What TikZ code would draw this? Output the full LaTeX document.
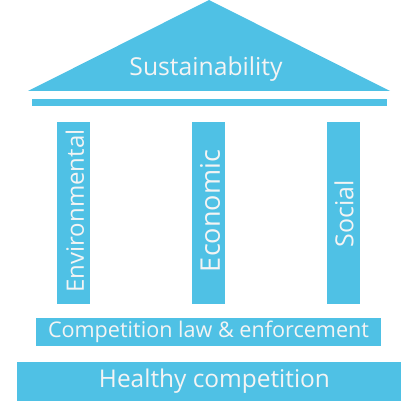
\documentclass[tikz,border=0pt]{standalone}
\usepackage{fontspec}
\setmainfont{Open Sans}
\definecolor{pblue}{HTML}{4FC1E5}
\definecolor{ptext}{HTML}{F4F4F4}
\begin{document}
\begin{tikzpicture}[x=1pt,y=-1pt,
  part/.style={fill=pblue,draw=none},
  lbl/.style={text=ptext,inner sep=0pt,anchor=center}]
\useasboundingbox (0,0) rectangle (418,401);
% roof
\path[part] (209,0) -- (390,91) -- (28,91) -- cycle;
\coordinate (roofc) at (206,69);
\node[lbl] (sus) at (roofc) {\resizebox{153pt}{!}{Sustainability}};
% beam
\path[part] (32,99) rectangle (387,106);
% columns
\path[part] (57,122) rectangle (90,304);
\path[part] (192,122) rectangle (225,304);
\path[part] (327,122) rectangle (360,304);
\node[lbl,rotate=90] (env) at (75,211) {\resizebox{163pt}{!}{Environmental}};
\node[lbl,rotate=90] (eco) at (210,211) {\resizebox{122pt}{!}{Economic}};
\node[lbl,rotate=90] (soc) at (344,214) {\resizebox{67pt}{!}{Social}};
% base
\path[part] (36,318) rectangle (381,346);
\node[lbl] (law) at (208.5,331.5) {\resizebox{321pt}{!}{Competition law \& enforcement}};
\path[part] (17,362) rectangle (401,401);
\node[lbl] (hc) at (214.5,381.5) {\resizebox{231pt}{!}{Healthy competition}};
\end{tikzpicture}
\end{document}
